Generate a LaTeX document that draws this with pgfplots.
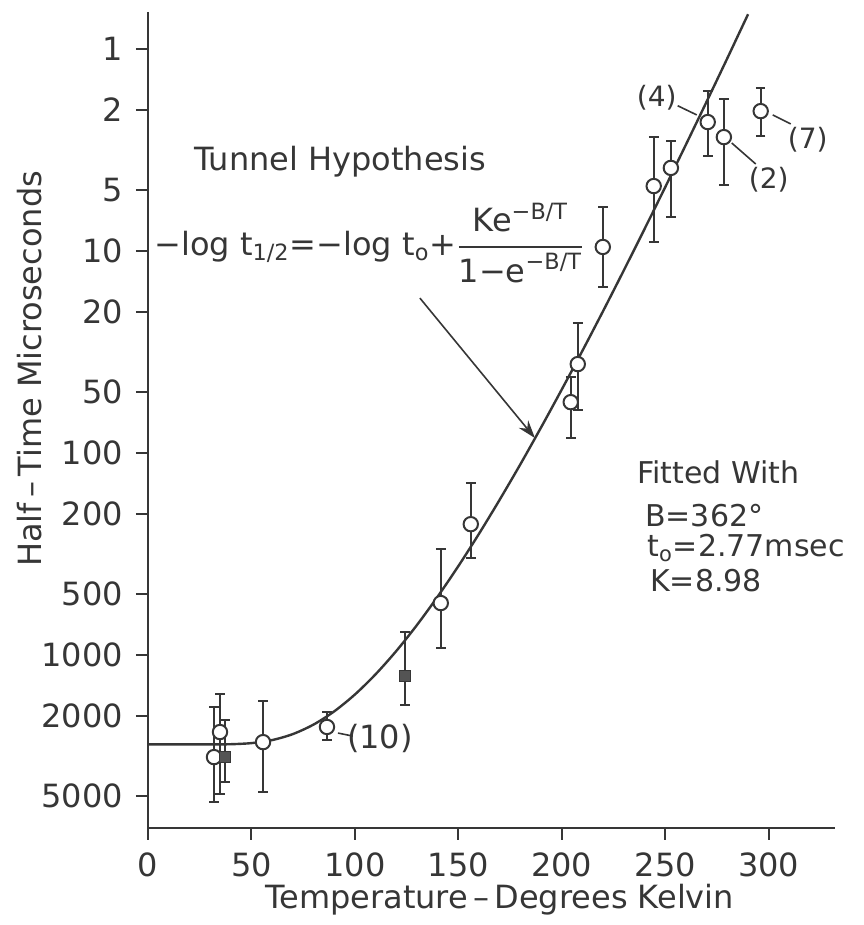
\documentclass[border=0pt]{standalone}
\usepackage{amsmath}
\usepackage{fontspec}
\setmainfont{DejaVu Sans}
\usepackage{pgfplots}
\pgfplotsset{compat=1.18}
\usetikzlibrary{arrows.meta}
\definecolor{ink}{HTML}{363636}

\begin{document}
\fontsize{16}{19}\selectfont
\color{ink}
\begin{tikzpicture}
\begin{axis}[
    scale only axis,
    width=343.5pt,
    height=408pt,
    xmin=0, xmax=332,
    ymode=log,
    ymin=0.656, ymax=7180,
    y dir=reverse,
    axis x line*=bottom,
    axis y line*=left,
    axis line style={draw=ink, line width=1pt},
    clip=false,
    tick align=outside,
    major tick length=6pt,
    tick style={draw=ink, line width=1pt},
    minor tick style={draw=none},
    xtick={0,50,100,150,200,250,300},
    xticklabels={0,50,100,150,200,250,300},
    ytick={1,2,5,10,20,50,100,200,500,1000,2000,5000},
    yticklabels={1,2,5,10,20,50,100,200,500,1000,2000,5000},
    xticklabel style={anchor=north, yshift=-1pt},
    yticklabel style={anchor=east, xshift=-1pt},
    every axis x label/.style={at={(axis description cs:0.512,-0.088)}, anchor=center},
    every axis y label/.style={at={(axis description cs:-0.172,0.5625)}, rotate=90, anchor=center},
    xlabel={Temperature\,–\,Degrees Kelvin},
    ylabel={Half\,–\,Time Microseconds},
]

% fitted curve, t0 = 2.77 msec, B = 362, K = 8.98
\addplot[ink, line width=1.2pt, smooth] coordinates {
    (0,2770) (10,2770) (20,2770) (30,2770) (40,2763) (50,2729)
    (60,2636) (70,2462) (80,2209) (90,1900) (100,1568) (110,1245)
    (120,955) (130,710) (140,513.5) (150,362.8) (160,250.7) (170,170.0)
    (180,113.5) (190,74.6) (200,48.4) (210,31.1) (220,19.77) (230,12.44)
    (240,7.77) (250,4.82) (260,2.969) (270,1.820) (280,1.110) (285,0.864)
    (290,0.673)
};

% open circles
\addplot[only marks, mark=*, mark size=3.6pt, draw=ink, fill=white, line width=1pt,
    mark options={draw=ink, fill=white, line width=1pt},
    error bars/.cd, y dir=both, y explicit,
    error bar style={ink, line width=1pt},
    error mark options={ink, line width=1pt, mark size=2.4pt, rotate=90}]
coordinates {
    (31.9,3200)  += (0,2145) -= (0,1393)
    (34.8,2405)  += (0,2469) -= (0,845)
    (55.6,2698)  += (0,2067) -= (0,1008)
    (86.5,2270)  += (0,366)  -= (0,356)
    (141.5,553)  += (0,370)  -= (0,254)
    (156,225)    += (0,106)  -= (0,84)
    (204.3,56)   += (0,28)   -= (0,14)
    (207.7,36.3) += (0,24.7) -= (0,13.6)
    (219.8,9.55) += (0,5.55) -= (0,3.5)
    (244.4,4.77) += (0,4.23) -= (0,2.04)
    (252.7,3.88) += (0,2.92) -= (0,1.03)
    (270.5,2.30) += (0,1.09) -= (0,0.69)
    (278.3,2.73) += (0,1.98) -= (0,0.96)
    (296.1,2.03) += (0,0.67) -= (0,0.47)
};

% filled squares
\addplot[only marks, mark=square*, mark size=2.8pt,
    mark options={draw=ink, fill=ink!85},
    error bars/.cd, y dir=both, y explicit,
    error bar style={ink, line width=1pt},
    error mark options={ink, line width=1pt, mark size=2.4pt, rotate=90}]
coordinates {
    (37.2,3200)  += (0,1070) -= (0,1110)
    (124.2,1270) += (0,501)  -= (0,501)
};

% labels of single runs
\draw[ink, line width=0.8pt] (axis cs:256.0,1.91) -- (axis cs:265.2,2.12);
\node at (axis cs:245.9,1.75) {\fontsize{14}{16}\selectfont (4)};
\draw[ink, line width=0.8pt] (axis cs:282.1,2.92) -- (axis cs:293.7,3.71);
\node at (axis cs:300,4.45) {\fontsize{14}{16}\selectfont (2)};
\draw[ink, line width=0.8pt] (axis cs:301.9,2.12) -- (axis cs:310.6,2.35);
\node at (axis cs:318.8,2.82) {\fontsize{14}{16}\selectfont (7)};
\draw[ink, line width=0.8pt] (axis cs:91.8,2433) -- (axis cs:99.0,2518);
\node at (axis cs:112.1,2576) {(10)};

% hypothesis
\node at (axis cs:92.8,3.62) {Tunnel Hypothesis};
\node at (axis cs:107,9.12) {−log t\textsubscript{1/2}=−log t\textsubscript{o}+$\genfrac{}{}{1pt}{0}{\mbox{Ke\textsuperscript{−B/T}}}{\mbox{1−e\textsuperscript{−B/T}}}$};
\draw[ink, line width=0.8pt, -{Stealth[length=9pt, width=6pt]}] (axis cs:131.4,17.1) -- (axis cs:187,84.3);

% fit parameters
\begin{scope}[every node/.style={anchor=west, inner sep=0pt, font=\fontsize{15}{18}\selectfont}]
\node at (axis cs:236.2,124) {Fitted With};
\node at (axis cs:240.1,203) {B=362°};
\node at (axis cs:241.1,295) {t\textsubscript{o}=2.77msec};
\node at (axis cs:242.5,426) {K=8.98};
\end{scope}

\coordinate (bbl) at (axis description cs:-0.2154,-0.1189);
\coordinate (btr) at (axis description cs:1.0422,1.0147);
\end{axis}
\pgfresetboundingbox
\useasboundingbox (bbl) rectangle (btr);
\end{tikzpicture}
\end{document}
